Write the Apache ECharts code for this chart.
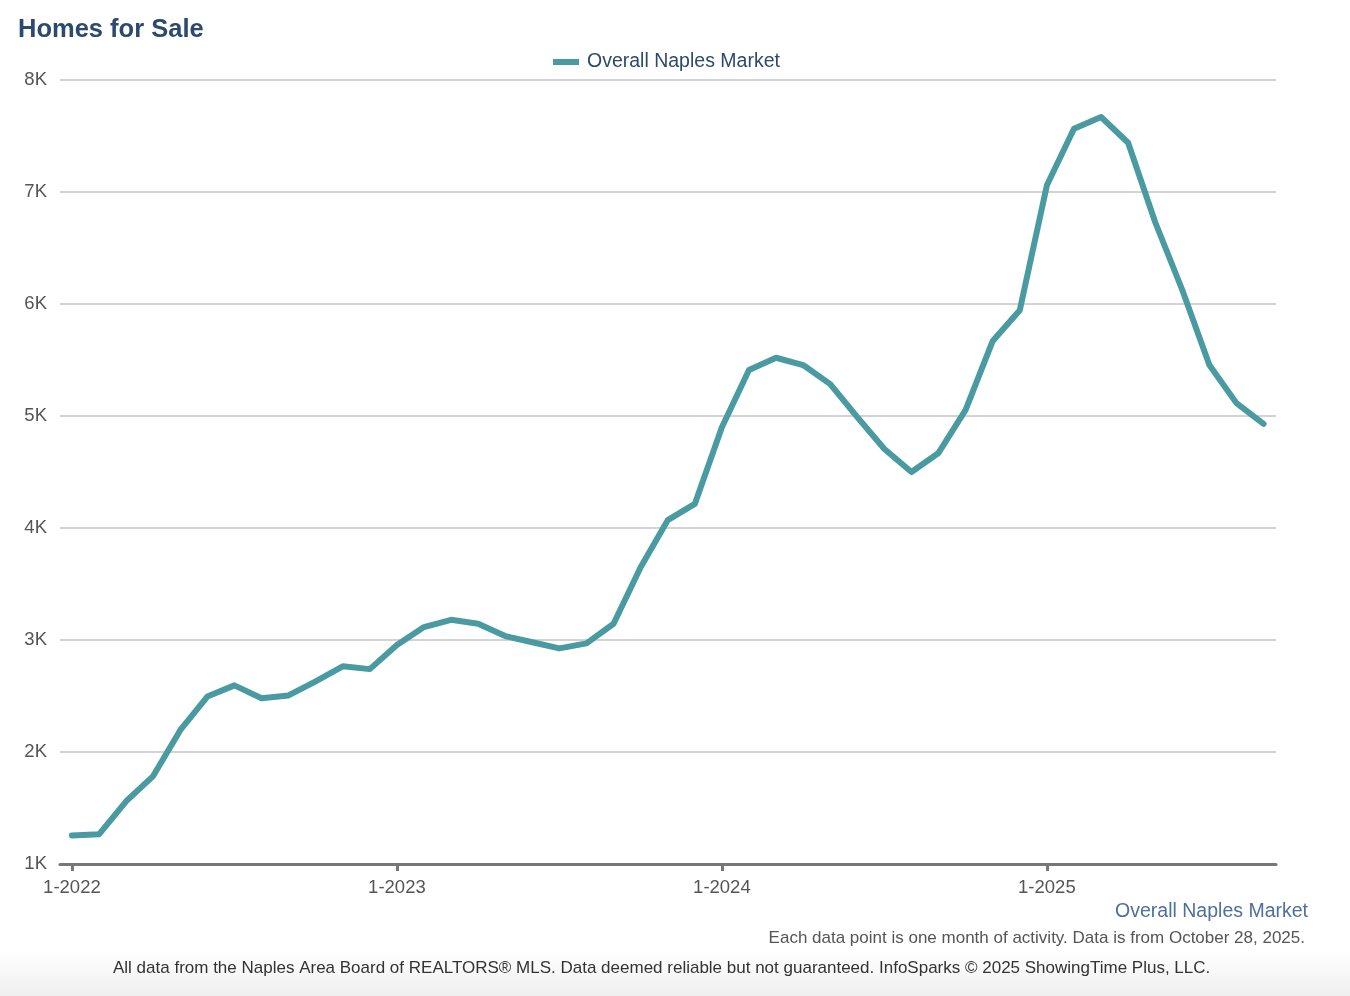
<!DOCTYPE html>
<html>
<head>
<meta charset="utf-8">
<title>Homes for Sale</title>
<script src="https://cdn.jsdelivr.net/npm/echarts@6/dist/echarts.min.js"></script>
<style>
  html, body { margin: 0; padding: 0; background: #fff; }
  #chart { width: 1350px; height: 996px; }
</style>
</head>
<body>
<div id="chart"></div>
<script>
// months Jan 2022 .. Sep 2025
const months = [];
for (let y = 2022; y <= 2025; y++) {
    for (let m = 1; m <= 12; m++) {
        if (y === 2025 && m > 9) break;
        months.push(m + '-' + y);
    }
}

// homes for sale, Overall Naples Market
const homesForSale = [
    1255, 1265, 1560, 1785, 2195, 2495, 2595, 2480, 2505, 2630, 2765, 2740,
    2955, 3115, 3180, 3145, 3035, 2980, 2925, 2970, 3145, 3650, 4070, 4215,
    4900, 5410, 5520, 5455, 5285, 4990, 4705, 4500, 4670, 5055, 5670, 5945,
    7060, 7565, 7670, 7440, 6730, 6125, 5455, 5115, 4930
];

const yTicks = [1000, 2000, 3000, 4000, 5000, 6000, 7000, 8000];
const xTickIdx = [0, 12, 24, 36];

const seriesName = 'Overall Naples Market';
const lineColor = '#4a9ba1';
const font = '"Liberation Sans", Arial, Helvetica, sans-serif';

const chart = echarts.init(document.getElementById('chart'));

chart.setOption({
    backgroundColor: '#fff',
    animation: false,
    textStyle: { fontFamily: font },
    title: {
        text: 'Homes for Sale',
        left: 13, top: 12,
        textStyle: { fontSize: 25.5, fontWeight: 'bold', color: '#2c4a6e', fontFamily: font }
    },
    legend: {
        top: 47, left: 548,
        itemWidth: 26, itemHeight: 6,
        itemGap: 10,
        textStyle: { fontSize: 19.5, color: '#2c4a6e', fontFamily: font, padding: [0, 0, 0, 3] },
        data: [{ name: seriesName, icon: 'rect' }]
    },
    grid: { left: 60, right: 74, top: 80, bottom: 132 },
    xAxis: {
        type: 'value',
        min: -0.44,
        max: 44.46,
        splitLine: { show: false },
        axisLine: { show: true, lineStyle: { color: '#777', width: 3 } },
        axisTick: {
            show: true, length: 7, inside: false,
            customValues: xTickIdx,
            lineStyle: { color: '#777', width: 3 }
        },
        axisLabel: {
            customValues: xTickIdx,
            formatter: v => months[Math.round(v)],
            fontSize: 18.5, color: '#555', margin: 14, fontFamily: font
        }
    },
    yAxis: {
        type: 'value',
        min: 1000, max: 8000, interval: 1000,
        axisLine: { show: false },
        axisTick: { show: false },
        splitLine: { lineStyle: { color: '#c4c4c4', width: 1.5 } },
        axisLabel: {
            formatter: v => (v / 1000) + 'K',
            fontSize: 18.5, color: '#555', margin: 13, fontFamily: font
        }
    },
    series: [{
        name: seriesName,
        type: 'line',
        data: homesForSale.map((v, i) => [i, v]),
        showSymbol: false,
        symbol: 'none',
        color: lineColor,
        lineStyle: { color: lineColor, width: 6, cap: 'round', join: 'round' },
        z: 3
    }],
    graphic: [
        {
            type: 'rect', left: 0, top: 950, z: -10, silent: true,
            shape: { width: 1350, height: 46 },
            style: {
                fill: new echarts.graphic.LinearGradient(0, 0, 0, 1, [
                    { offset: 0, color: '#ffffff' },
                    { offset: 1, color: '#efefef' }
                ])
            }
        },
        {
            type: 'text', right: 42, top: 902,
            style: { text: seriesName, fontSize: 19.5, fill: '#4f6f9f', fontFamily: font }
        },
        {
            type: 'text', right: 45, top: 930,
            style: {
                text: 'Each data point is one month of activity. Data is from October 28, 2025.',
                fontSize: 17, fill: '#555', fontFamily: font
            }
        },
        {
            type: 'text', left: 113, top: 960,
            style: {
                text: 'All data from the Naples Area Board of REALTORS\u00ae MLS. Data deemed reliable but not guaranteed. InfoSparks \u00a9 2025 ShowingTime Plus, LLC.',
                fontSize: 17, fill: '#333', fontFamily: font
            }
        }
    ]
});
</script>
</body>
</html>
